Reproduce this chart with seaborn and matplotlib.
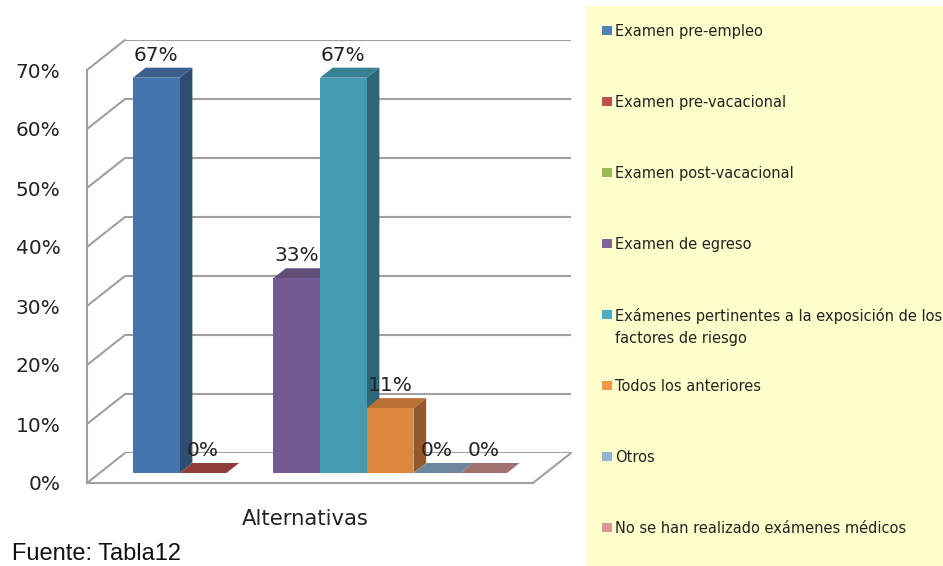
import numpy as np
import pandas as pd
import matplotlib
matplotlib.use("Agg")
import matplotlib.pyplot as plt
import seaborn as sns
from matplotlib.patches import Polygon, Rectangle
from matplotlib.lines import Line2D
from matplotlib.ticker import PercentFormatter

# ---- data -------------------------------------------------------------
categories = [
    "Examen pre-empleo",
    "Examen pre-vacacional",
    "Examen post-vacacional",
    "Examen de egreso",
    "Exámenes pertinentes a la exposición de los factores de riesgo",
    "Todos los anteriores",
    "Otros",
    "No se han realizado exámenes médicos",
]
legend_labels = [
    "Examen pre-empleo",
    "Examen pre-vacacional",
    "Examen post-vacacional",
    "Examen de egreso",
    "Exámenes pertinentes a la exposición de los\nfactores de riesgo",
    "Todos los anteriores",
    "Otros",
    "No se han realizado exámenes médicos",
]
values = [67, 0, np.nan, 33, 67, 11, 0, 0]  # percent; post-vacacional has no bar
base_colors = ["#4F81BD", "#C0504D", "#9BBB59", "#8064A2",
               "#4BACC6", "#F79646", "#95B3D7", "#D99694"]
y_ticks = [0, 10, 20, 30, 40, 50, 60, 70]
axis_title = "Alternativas"
source_note = "Fuente: Tabla12"

# ---- layout (pixels, origin top-left) ---------------------------------
W, H = 943, 566
DPI = 100
FRONT_LEFT, FRONT_BASE = 87, 483      # front corner of the 3D box
WALL_DX, WALL_DY = 38, 30             # offset from front plane to back wall
BAR_FRAC = 1 / 3                      # depth of the bar front faces
PLOT_W, PLOT_H = 446, 413
XLIM = (-1.212, 8.327)
YLIM = (0, 70)
GRID = "#A0A0A0"
TEXT = "#222222"
LEGEND_SIZE = 10.5


def rect(left_px, base_px):
    return [left_px / W, 1 - base_px / H, PLOT_W / W, PLOT_H / H]


def shade(rgb, f):
    return tuple(np.clip(np.array(rgb[:3]) * f, 0, 1))


sns.set_theme(style="white")
plt.rcParams["font.family"] = ["DejaVu Sans"]

fig = plt.figure(figsize=(W / DPI, H / DPI), dpi=DPI)
fig.patch.set_facecolor("white")

# yellow legend panel
fig.add_artist(Rectangle((586 / W, 0), (W - 586) / W, 1 - 6 / H,
                         transform=fig.transFigure, facecolor="#FFFFCC",
                         edgecolor="none", zorder=0))

# back wall with horizontal gridlines
ax_back = fig.add_axes(rect(FRONT_LEFT + WALL_DX, FRONT_BASE - WALL_DY))
ax_back.set_xlim(XLIM)
ax_back.set_ylim(YLIM)
ax_back.set_yticks(y_ticks)
ax_back.set_xticks([])
ax_back.grid(axis="y", color=GRID, linewidth=1.5)
ax_back.tick_params(left=False, labelleft=False, bottom=False, labelbottom=False)
for s in ax_back.spines.values():
    s.set_visible(False)
ax_back.set_facecolor("none")
ax_back.set_zorder(0)

# front plane: the value axis and floor front edge
ax_front = fig.add_axes(rect(FRONT_LEFT, FRONT_BASE))
ax_front.set_xlim(XLIM)
ax_front.set_ylim(YLIM)
ax_front.set_facecolor("none")
ax_front.set_yticks(y_ticks)
ax_front.yaxis.set_major_formatter(PercentFormatter(xmax=100, decimals=0))
ax_front.set_xticks(list(XLIM))
ax_front.tick_params(axis="x", direction="out", length=6, width=1.5,
                     color=GRID, labelbottom=False)
ax_front.tick_params(axis="y", direction="out", length=6, width=1.5,
                     color=GRID, labelsize=14.5, labelcolor=TEXT, pad=13)
for side in ("top", "right"):
    ax_front.spines[side].set_visible(False)
for side in ("left", "bottom"):
    ax_front.spines[side].set_color(GRID)
    ax_front.spines[side].set_linewidth(1.5)
ax_front.set_zorder(1)

# side wall diagonals and the floor's right edge
to_fig = fig.transFigure.inverted()
for v in y_ticks:
    p0 = ax_front.transData.transform((XLIM[0], v))
    p1 = ax_back.transData.transform((XLIM[0], v))
    pts = to_fig.transform([p0, p1])
    ax_back.add_line(Line2D(pts[:, 0], pts[:, 1], transform=fig.transFigure,
                            color=GRID, linewidth=1.5, clip_on=False))
p0 = ax_front.transData.transform((XLIM[1], 0))
p1 = ax_back.transData.transform((XLIM[1], 0))
pts = to_fig.transform([p0, p1])
ax_back.add_line(Line2D(pts[:, 0], pts[:, 1], transform=fig.transFigure,
                        color=GRID, linewidth=1.5, clip_on=False))

# bars
ax = fig.add_axes(rect(FRONT_LEFT + WALL_DX * BAR_FRAC,
                       FRONT_BASE - WALL_DY * BAR_FRAC))
ax.set_zorder(2)
df = pd.DataFrame({"alternativa": categories, "porcentaje": values}).dropna()
front_colors = [shade(matplotlib.colors.to_rgb(c), 0.9) for c in base_colors]
sns.barplot(data=df, x="alternativa", y="porcentaje", hue="alternativa",
            order=categories, hue_order=categories,
            palette=dict(zip(categories, front_colors)),
            width=1, saturation=1, linewidth=0, legend=False, ax=ax)
ax.set_xlim(XLIM)
ax.set_ylim(YLIM)
ax.axis("off")

# depth of the bar boxes expressed in data units
o = ax.transData.transform((0, 0))
ux = ax.transData.transform((1, 0))[0] - o[0]
uy = ax.transData.transform((0, 1))[1] - o[1]
ddx = WALL_DX * BAR_FRAC / ux
ddy = WALL_DY * BAR_FRAC / uy

bars = sorted([p for p in ax.patches if np.isfinite(p.get_height())],
              key=lambda p: p.get_x())
for p in bars:
    x0, w, h = p.get_x(), p.get_width(), p.get_height()
    fc = p.get_facecolor()
    side_poly = Polygon([(x0 + w, 0), (x0 + w + ddx, ddy),
                         (x0 + w + ddx, h + ddy), (x0 + w, h)],
                        closed=True, facecolor=shade(fc, 0.66),
                        edgecolor="none", zorder=1.5)
    top_poly = Polygon([(x0, h), (x0 + w, h), (x0 + w + ddx, h + ddy),
                        (x0 + ddx, h + ddy)],
                       closed=True, facecolor=shade(fc, 0.83),
                       edgecolor="none", zorder=1.6)
    ax.add_patch(side_poly)
    ax.add_patch(top_poly)
    p.set_zorder(3)

for c in ax.containers:
    vals = np.asarray(c.datavalues, dtype=float)
    if vals.size == 0 or not np.all(np.isfinite(vals)):
        continue
    ax.bar_label(c, labels=[f"{v:.0f}%" for v in vals], padding=9.4,
                 fontsize=14.5, color=TEXT, zorder=5)

# axis title and source note
fig.text(305 / W, 1 - 519 / H, axis_title, ha="center", va="center",
         fontsize=15.2, color=TEXT)
fig.text(12 / W, 1 - 554 / H, source_note, ha="left", va="center",
         fontsize=17, color="#111111", family=["Liberation Sans"])

# legend entries
em = LEGEND_SIZE * DPI / 72
for i, (lab, col) in enumerate(zip(legend_labels, base_colors)):
    yc = 30 + 71 * i
    fig.add_artist(Rectangle((602 / W, 1 - (yc + 4.5) / H), 10 / W, 9 / H,
                             transform=fig.transFigure, facecolor=col,
                             edgecolor="none", zorder=2))
    fig.text(615 / W, 1 - (yc - 0.395 * em) / H, lab, ha="left", va="top",
             fontsize=LEGEND_SIZE, color=TEXT, linespacing=1.55, zorder=2)

fig.savefig("out.png", dpi=DPI)
